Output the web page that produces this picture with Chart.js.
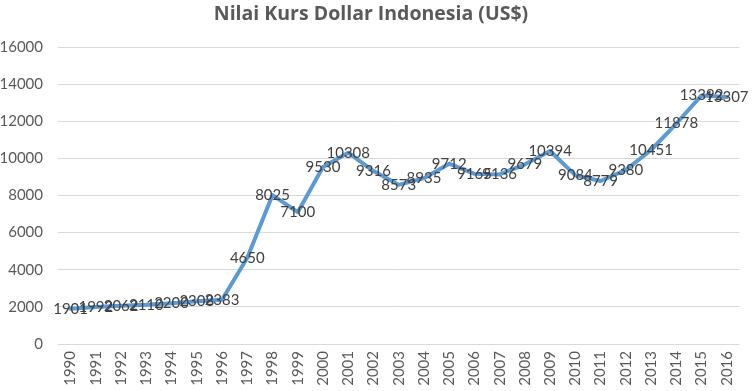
<!DOCTYPE html>
<html>
<head>
<meta charset="utf-8">
<script src="https://cdn.jsdelivr.net/npm/chart.js@4/dist/chart.umd.min.js"></script>
<style>
html,body{margin:0;padding:0;background:#fff;}
#wrap{width:752px;height:391px;position:relative;}
</style>
</head>
<body>
<div id="wrap"><canvas id="c" width="752" height="391"></canvas></div>
<script>
const years = ['1990','1991','1992','1993','1994','1995','1996','1997','1998','1999','2000','2001','2002','2003','2004','2005','2006','2007','2008','2009','2010','2011','2012','2013','2014','2015','2016'];
const kurs = [1901,1992,2062,2110,2200,2308,2383,4650,8025,7100,9530,10308,9316,8573,8935,9712,9165,9136,9679,10394,9084,8779,9380,10451,11878,13392,13307];
const yTicks = [0,2000,4000,6000,8000,10000,12000,14000,16000];
const titleText = 'Nilai Kurs Dollar Indonesia (US$)';

const FONT = 'Lato, "Open Sans", sans-serif';

const labelPlugin = {
  id: 'valueLabels',
  afterDatasetsDraw(chart) {
    const ctx = chart.ctx;
    const meta = chart.getDatasetMeta(0);
    ctx.save();
    ctx.font = '15px ' + FONT;
    ctx.fillStyle = '#404040';
    ctx.textAlign = 'center';
    ctx.textBaseline = 'middle';
    meta.data.forEach((pt, i) => {
      ctx.fillText(String(chart.data.datasets[0].data[i]), pt.x, pt.y);
    });
    ctx.restore();
  }
};

new Chart(document.getElementById('c'), {
  type: 'line',
  data: {
    labels: years,
    datasets: [{
      data: kurs,
      borderColor: '#5B9BD5',
      borderWidth: 4,
      pointRadius: 0,
      tension: 0,
      borderJoinStyle: 'round',
      borderCapStyle: 'round',
      fill: false
    }]
  },
  options: {
    responsive: false,
    animation: false,
    devicePixelRatio: 1,
    layout: { padding: { left: 0, right: 10, top: 0, bottom: 0 } },
    plugins: {
      legend: { display: false },
      tooltip: { enabled: false },
      title: {
        display: true,
        text: titleText,
        color: '#595959',
        font: { family: '"Open Sans", Lato, sans-serif', size: 19.5, weight: 'bold' },
        padding: { top: 3, bottom: 20.6 }
      }
    },
    scales: {
      x: {
        offset: true,
        grid: { display: false, drawTicks: false },
        border: { display: false },
        ticks: {
          color: '#595959',
          font: { family: FONT, size: 15 },
          minRotation: 90,
          maxRotation: 90,
          autoSkip: false,
          padding: 7
        },
        afterFit(s) { s.height = 47; }
      },
      y: {
        min: 0,
        max: 16000,
        afterBuildTicks(s) { s.ticks = yTicks.map(v => ({ value: v })); },
        grid: { color: '#d9d9d9', lineWidth: 1, drawTicks: false },
        border: { display: false },
        ticks: {
          color: '#595959',
          font: { family: FONT, size: 15 },
          padding: 15,
          callback: (v) => String(v)
        },
        afterFit(s) { s.width = 58; }
      }
    }
  },
  plugins: [labelPlugin]
});
</script>
</body>
</html>
